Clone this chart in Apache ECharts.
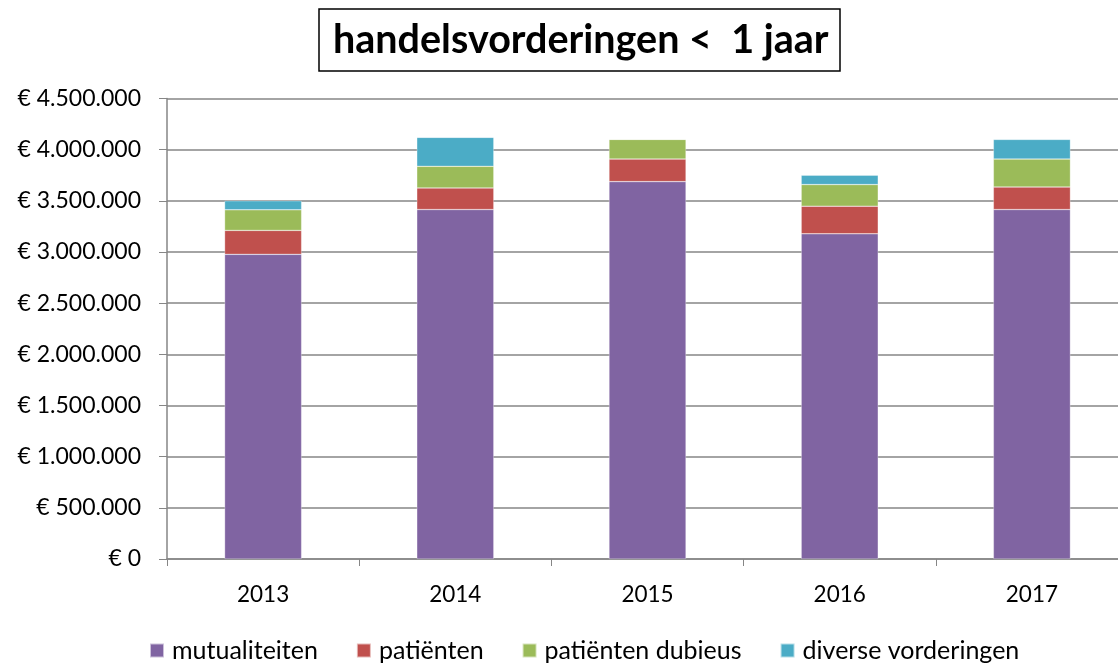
<!DOCTYPE html>
<html>
<head>
  <meta charset="utf-8">
  <title>handelsvorderingen</title>
  <script src="https://cdn.jsdelivr.net/npm/echarts@6/dist/echarts.min.js"></script>
  <style>
    html, body { margin: 0; padding: 0; background: #fff; }
    #main { width: 1118px; height: 664px; }
  </style>
</head>
<body>
  <div id="main"></div>
  <script>
    var years = ['2013', '2014', '2015', '2016', '2017'];
    var mutualiteiten = [2977000, 3415000, 3688000, 3178000, 3415000];
    var patienten = [234000, 211000, 220000, 270000, 220000];
    var dubieus = [201000, 211000, 192000, 211000, 273000];
    var diverse = [88000, 283000, 0, 91000, 192000];

    var colors = ['#8064A2', '#C0504D', '#9BBB59', '#4BACC6'];
    var font = 'Lato, "Open Sans", sans-serif';

    // 4500000 -> "€ 4.500.000"
    function euro(v) {
      return '€ ' + String(v).replace(/\B(?=(\d{3})+(?!\d))/g, '.');
    }

    var myChart = echarts.init(document.getElementById('main'));

    function bar(name, data, color) {
      return {
        name: name,
        type: 'bar',
        stack: 'total',
        barWidth: 77,
        data: data,
        itemStyle: { color: color, borderColor: 'rgba(255,255,255,0.6)', borderWidth: 0.5 }
      };
    }

    var option = {
      animation: false,
      textStyle: { fontFamily: font },
      title: {
        text: 'handelsvorderingen <  1 jaar',
        left: 319,
        top: 9,
        padding: [11, 12, 11, 14],
        borderColor: '#000',
        borderWidth: 1.5,
        textStyle: { fontFamily: font, fontSize: 39.5, fontWeight: 'bold', color: '#000' }
      },
      legend: {
        left: 144,
        top: 633,
        itemWidth: 14,
        itemHeight: 14,
        itemGap: 38,
        icon: 'rect',
        textStyle: { fontFamily: font, fontSize: 25, color: '#000', padding: [0, 0, 0, 3] },
        data: ['mutualiteiten', 'patiënten', 'patiënten dubieus', 'diverse vorderingen']
      },
      grid: {
        left: 167,
        top: 98.5,
        bottom: 105,
        width: 961,
        outerBoundsMode: 'none'
      },
      xAxis: {
        type: 'category',
        data: years,
        axisLine: { lineStyle: { color: '#868686', width: 1.5 } },
        axisTick: { show: true, length: 7, lineStyle: { color: '#868686' } },
        axisLabel: { color: '#000', fontSize: 22.5, margin: 24, fontFamily: font }
      },
      yAxis: {
        type: 'value',
        min: 0,
        max: 4500000,
        interval: 500000,
        axisLine: { show: true, lineStyle: { color: '#868686', width: 1.5 } },
        axisTick: { show: true, length: 8, lineStyle: { color: '#868686' } },
        splitLine: { lineStyle: { color: '#868686', width: 1.5 } },
        axisLabel: { color: '#000', fontSize: 23, margin: 26, fontFamily: font, formatter: euro }
      },
      series: [
        bar('mutualiteiten', mutualiteiten, colors[0]),
        bar('patiënten', patienten, colors[1]),
        bar('patiënten dubieus', dubieus, colors[2]),
        bar('diverse vorderingen', diverse, colors[3])
      ]
    };

    myChart.setOption(option);
  </script>
</body>
</html>
